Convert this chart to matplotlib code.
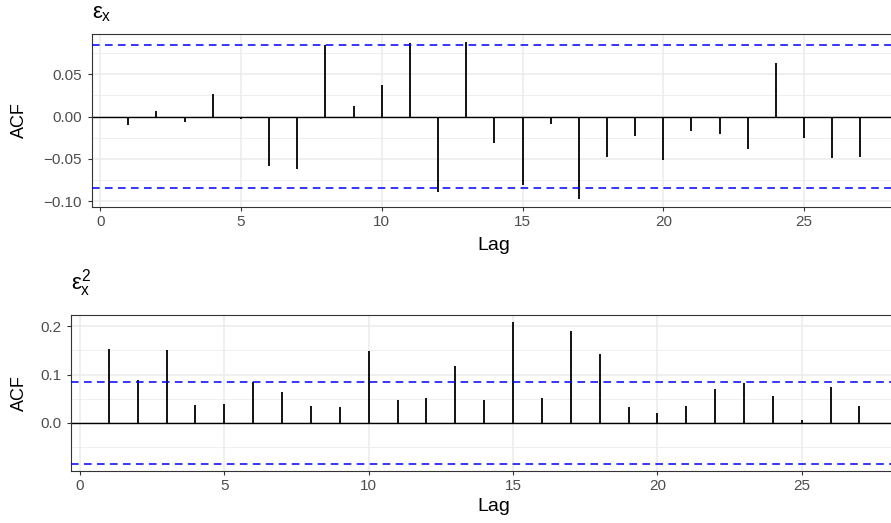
import matplotlib
matplotlib.use("Agg")
import matplotlib.pyplot as plt
import numpy as np

# ACF values
lags = list(range(1, 28))
acf_resid = [-0.010, 0.007, -0.006, 0.026, -0.003, -0.058, -0.062, 0.084, 0.012,
             0.037, 0.087, -0.089, 0.088, -0.031, -0.081, -0.009, -0.097, -0.048,
             -0.023, -0.051, -0.017, -0.021, -0.038, 0.063, -0.025, -0.049, -0.048]
acf_resid_sq = [0.153, 0.089, 0.151, 0.038, 0.040, 0.085, 0.063, 0.036, 0.034,
                0.149, 0.048, 0.051, 0.118, 0.048, 0.209, 0.051, 0.191, 0.143,
                0.034, 0.021, 0.035, 0.070, 0.083, 0.055, 0.007, 0.075, 0.036]
conf_limit = 0.0845

titles = [r'$\varepsilon_{x}$', r'$\varepsilon_{x}^{2}$']
y_major = [[-0.10, -0.05, 0.00, 0.05], [0.0, 0.1, 0.2]]
y_minor = [[-0.075, -0.025, 0.025, 0.075], [-0.05, 0.05, 0.15]]
y_fmt = ['{:.2f}', '{:.1f}']
x_major = [0, 5, 10, 15, 20, 25]

plt.rcParams['font.family'] = ['Liberation Sans', 'DejaVu Sans']
plt.rcParams['mathtext.fontset'] = 'custom'
plt.rcParams['mathtext.rm'] = 'Liberation Sans'
plt.rcParams['mathtext.it'] = 'Liberation Sans'

W, H = 891, 523
fig = plt.figure(figsize=(W / 100, H / 100), dpi=100)

# axes boxes in pixels: left, top, bottom (right side runs off the picture)
boxes = [(91.7, 34.0, 206.7), (71.3, 314.7, 471.0)]
right_px = 897.0
lag_baseline = [250.0, 511.0]
title_pad = [11, 18]


def draw_acf(ax, box, values, title, majors, minors, fmt, lag_y, tpad):
    left, top, bottom = box
    ymin = min(min(values), -conf_limit)
    ymax = max(max(values), conf_limit)
    pad = (ymax - ymin) * 0.05
    ax.set_ylim(ymin - pad, ymax + pad)
    ax.set_xlim(-0.3, 28.3)

    ax.set_yticks(majors)
    ax.set_yticklabels([fmt.format(v).replace('-', '\u2212') for v in majors])
    ax.set_yticks(minors, minor=True)
    ax.set_xticks(x_major)

    # ggplot style grid
    ax.set_axisbelow(True)
    ax.grid(which='major', color='#EBEBEB', linewidth=1.1)
    ax.grid(which='minor', axis='y', color='#EBEBEB', linewidth=0.55)

    ax.axhline(0, color='black', linewidth=1.0, zorder=2)
    ax.vlines(lags, 0, values, color='black', linewidth=1.3, zorder=3)
    for c in (conf_limit, -conf_limit):
        ax.axhline(c, color='blue', linewidth=1.1, linestyle=(0, (5, 3.5)), zorder=4)

    for side in ['left', 'top', 'bottom', 'right']:
        ax.spines[side].set_color('#333333')
        ax.spines[side].set_linewidth(0.8)
    ax.tick_params(which='major', length=3, width=0.8, color='#333333',
                   labelcolor='#4D4D4D', labelsize=11)
    ax.tick_params(axis='x', pad=3)
    ax.tick_params(axis='y', pad=4)
    ax.tick_params(which='minor', length=0)

    width = right_px - left
    height = bottom - top
    ax.set_xlabel('Lag', fontsize=14)
    ax.xaxis.label.set_va('baseline')
    ax.xaxis.set_label_coords((494.0 - left) / width, (bottom - lag_y) / height)
    ax.set_ylabel('ACF', fontsize=13)
    ax.yaxis.label.set_va('center')
    ax.yaxis.set_label_coords((19.5 - left) / width, 0.5)
    ax.set_title(title, loc='left', fontsize=16, pad=tpad)


for box, vals, title, maj, mnr, fmt, lag_y, tpad in zip(
        boxes, [acf_resid, acf_resid_sq], titles, y_major, y_minor, y_fmt,
        lag_baseline, title_pad):
    left, top, bottom = box
    ax = fig.add_axes([left / W, 1 - bottom / H, (right_px - left) / W, (bottom - top) / H])
    draw_acf(ax, box, vals, title, maj, mnr, fmt, lag_y, tpad)

fig.savefig('out.png', dpi=100)
